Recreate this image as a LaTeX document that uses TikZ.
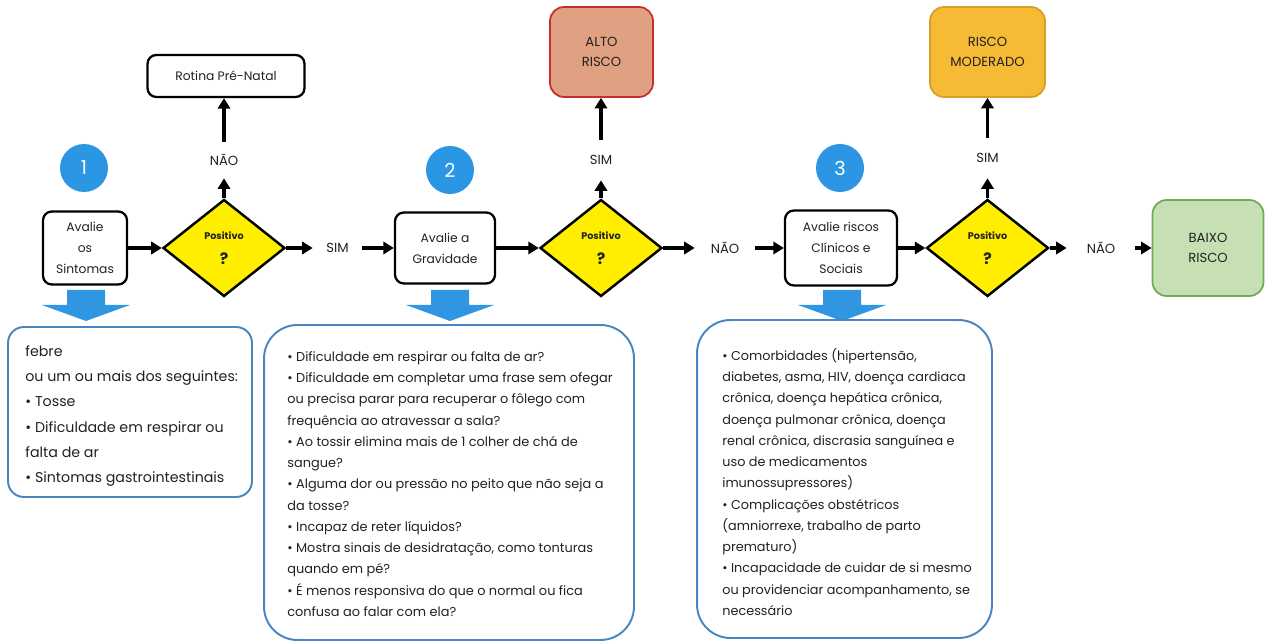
\documentclass[tikz,border=0pt]{standalone}
\usepackage{fontspec}
\setmainfont{Poppins}
\usetikzlibrary{shapes.geometric,arrows.meta}
\definecolor{txtc}{RGB}{34,34,34}
\definecolor{yellowD}{RGB}{255,238,0}
\definecolor{blueC}{RGB}{42,150,228}
\definecolor{blueA}{RGB}{48,150,226}
\definecolor{blueB}{RGB}{70,135,195}
\definecolor{altoF}{RGB}{224,160,130}
\definecolor{altoD}{RGB}{200,45,45}
\definecolor{modF}{RGB}{246,186,52}
\definecolor{modD}{RGB}{214,160,40}
\definecolor{baixoF}{RGB}{198,224,180}
\definecolor{baixoD}{RGB}{112,170,82}
\tikzset{
  proc/.style={draw=black, line width=1.3pt, rounded corners=5pt, fill=white, align=center, inner sep=0pt, text=txtc, font=\fontsize{7}{12}\selectfont},
  dec/.style={diamond, draw=black, line width=1.4pt, fill=yellowD, minimum width=2.44cm, minimum height=1.94cm, inner sep=0pt, align=center, text=txtc},
  res/.style={rounded corners=8pt, line width=1pt, align=center, inner sep=0pt, text=txtc, font=\fontsize{7.5}{11.5}\selectfont},
  lbl/.style={inner sep=0pt, text=txtc, font=\fontsize{7.5}{9}\selectfont},
  flow/.style={-{Triangle[length=6pt,width=7pt]}, line width=1.8pt, black},
  num/.style={circle, fill=blueC, text=white, minimum size=0.96cm, inner sep=0pt, font=\fontsize{11}{11}\selectfont},
  info/.style={draw=blueB, line width=1.1pt, fill=white, inner sep=0pt},
  infotxt/.style={anchor=west, align=left, inner sep=0pt, text=txtc},
  dnarrow/.style={fill=blueA, draw=none}
}
\begin{document}
\begin{tikzpicture}[x=0.02cm,y=-0.02cm]
\useasboundingbox[fill=white] (0,0) rectangle (1266,644);

% stage 1
\node[proc, minimum width=1.68cm, minimum height=1.46cm] (b1) at (85,248) {Avalie\\os\\Sintomas};
\node[num] (n1) at (84,168) {1};
\node[dec] (d1) at (224,248) {\fontsize{5.5}{6}\selectfont\bfseries Positivo\\[2.5pt]\fontsize{9}{9}\selectfont\bfseries ?};
\node[lbl, minimum height=0.72cm] (nao1) at (224,160) {NÃO};
\node[proc, minimum width=3.14cm, minimum height=0.84cm] (rot) at (226,76) {Rotina Pré-Natal};
\node[lbl, minimum width=0.98cm] (sim1) at (337.5,248) {SIM};

% stage 2
\node[proc, minimum width=2.0cm, minimum height=1.42cm] (b2) at (445,248) {Avalie a\\Gravidade};
\node[num] (n2) at (450,170) {2};
\node[dec] (d2) at (601,248) {\fontsize{5.5}{6}\selectfont\bfseries Positivo\\[2.5pt]\fontsize{9}{9}\selectfont\bfseries ?};
\node[lbl, minimum height=0.8cm] (sim2) at (601,160) {SIM};
\node[res, draw=altoD, fill=altoF, minimum width=2.06cm, minimum height=1.8cm] (alto) at (601.5,52) {ALTO\\RISCO};
\node[lbl, minimum width=1.2cm] (nao2) at (725,248) {NÃO};

% stage 3
\node[proc, minimum width=2.24cm, minimum height=1.5cm] (b3) at (841,248) {Avalie riscos\\Clínicos e\\Sociais};
\node[num] (n3) at (840,168) {3};
\node[dec] (d3) at (987.5,248) {\fontsize{5.5}{6}\selectfont\bfseries Positivo\\[2.5pt]\fontsize{9}{9}\selectfont\bfseries ?};
\node[lbl, minimum height=0.8cm] (sim3) at (987.5,158) {SIM};
\node[res, draw=modD, fill=modF, minimum width=2.3cm, minimum height=1.8cm] (mod) at (987.5,52) {RISCO\\MODERADO};
\node[lbl, minimum width=1.36cm] (nao3) at (1101,248) {NÃO};
\node[res, draw=baixoD, fill=baixoF, minimum width=2.22cm, minimum height=1.92cm] (baixo) at (1208,248) {BAIXO\\RISCO};

% connectors
\draw[flow] (b1) -- (d1);
\draw[flow] (d1.north) -- (nao1.south);
\draw[flow] (nao1.north) -- (nao1.north |- rot.south);
\draw[flow] (d1.east) -- (sim1.west);
\draw[flow] (sim1.east) -- (b2.west);
\draw[flow] (b2) -- (d2);
\draw[flow] (d2.north) -- (sim2.south);
\draw[flow] (sim2.north) -- (sim2.north |- alto.south);
\draw[flow] (d2.east) -- (nao2.west);
\draw[flow] (nao2.east) -- (b3.west);
\draw[flow] (b3) -- (d3);
\draw[flow] (d3.north) -- (sim3.south);
\draw[flow] (sim3.north) -- (sim3.north |- mod.south);
\draw[flow] (d3.east) -- (nao3.west);
\draw[flow] (nao3.east) -- (baixo.west);

% down arrows
\foreach \cx in {86,450,842}{
  \fill[dnarrow] (\cx-19,290) -- (\cx+19,290) -- (\cx+19,305) -- (\cx+44,305) -- (\cx,321) -- (\cx-44,305) -- (\cx-19,305) -- cycle;
}

% info boxes
\node[info, rounded corners=9pt, minimum width=4.88cm, minimum height=3.4cm] (tb1) at (130,412) {};
\node[info, rounded corners=19pt, minimum width=7.4cm, minimum height=6.3cm] (tb2) at (449,482.5) {};
\node[info, rounded corners=19pt, minimum width=5.9cm, minimum height=6.36cm] (tb3) at (844.5,479) {};

\node[infotxt, font=\fontsize{8.1}{14.3}\selectfont] (t1) at (25,416) {febre\\
ou um ou mais dos seguintes:\\
• Tosse\\
• Dificuldade em respirar ou\\
falta de ar\\
• Sintomas gastrointestinais};

\node[infotxt, font=\fontsize{7.35}{12.1}\selectfont] (t2) at (287,484) {• Dificuldade em respirar ou falta de ar?\\
• Dificuldade em completar uma frase sem ofegar\\
ou precisa parar para recuperar o fôlego com\\
frequência ao atravessar a sala?\\
• Ao tossir elimina mais de 1 colher de chá de\\
sangue?\\
• Alguma dor ou pressão no peito que não seja a\\
da tosse?\\
• Incapaz de reter líquidos?\\
• Mostra sinais de desidratação, como tonturas\\
quando em pé?\\
• É menos responsiva do que o normal ou fica\\
confusa ao falar com ela?};

\node[infotxt, font=\fontsize{7.3}{12.1}\selectfont] (t3) at (722,482) {• Comorbidades (hipertensão,\\
diabetes, asma, HIV, doença cardiaca\\
crônica, doença hepática crônica,\\
doença pulmonar crônica, doença\\
renal crônica, discrasia sanguínea e\\
uso de medicamentos\\
imunossupressores)\\
• Complicações obstétricos\\
(amniorrexe, trabalho de parto\\
prematuro)\\
• Incapacidade de cuidar de si mesmo\\
ou providenciar acompanhamento, se\\
necessário};
\end{tikzpicture}
\end{document}
